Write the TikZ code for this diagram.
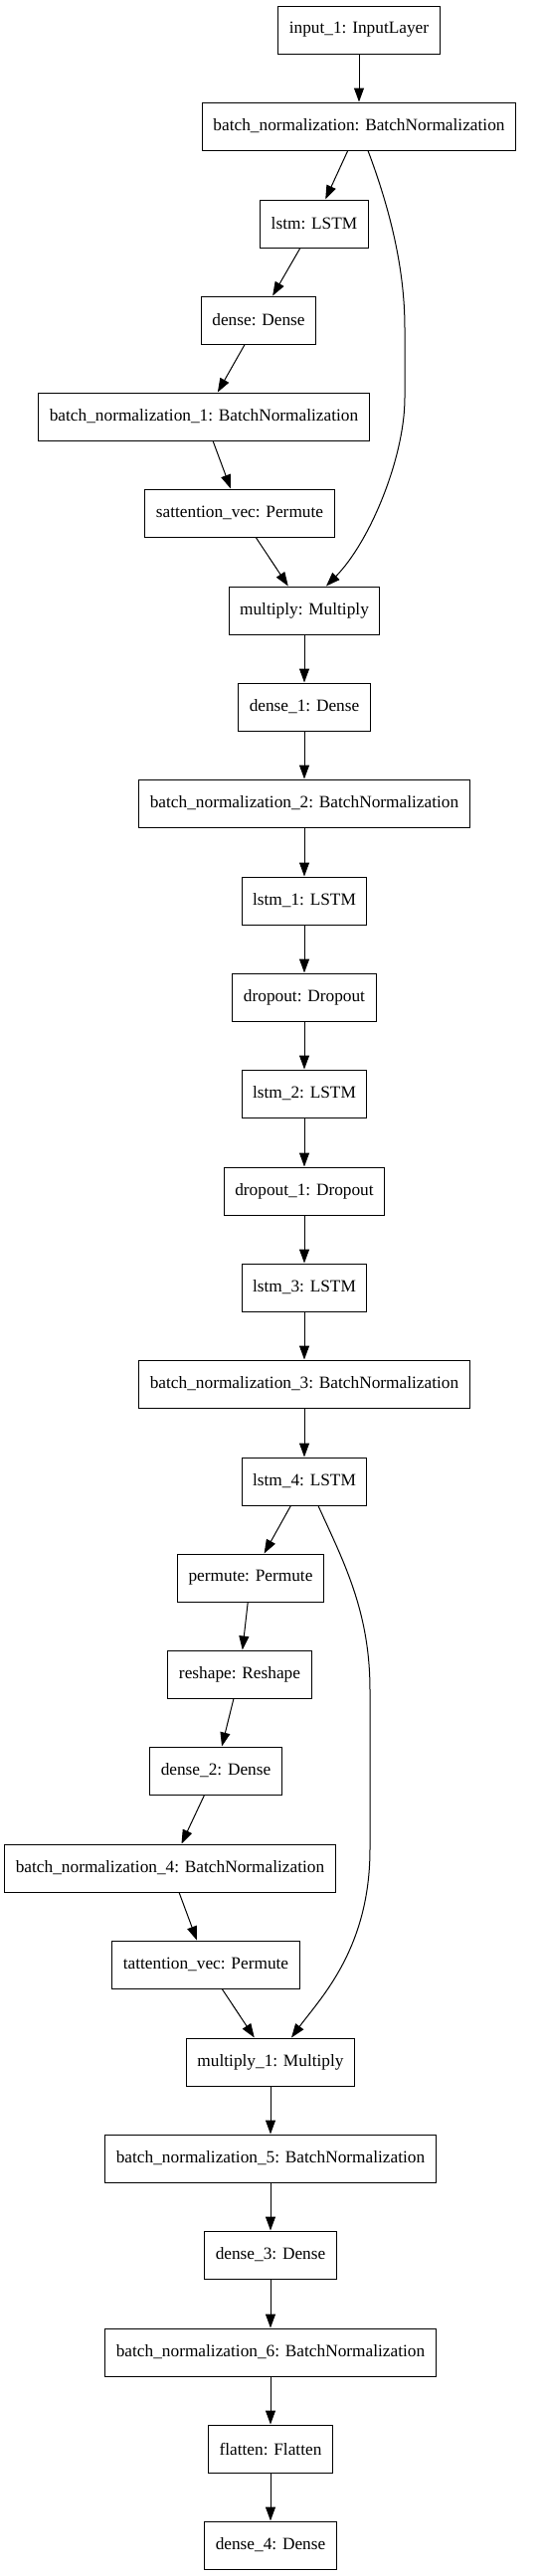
\documentclass[tikz,border=0pt]{standalone}
\usepackage{fontspec}
\setmainfont{Liberation Serif}
\usetikzlibrary{arrows.meta}

\begin{document}
\begin{tikzpicture}[x=1pt,y=-1pt]

% ---------- common style ----------
\tikzstyle{layer}=[draw=black,line width=1pt,minimum height=48pt,inner xsep=11pt,font=\fontsize{17.3}{20}\selectfont]
\tikzstyle{edge}=[draw=black,line width=1pt,-{Triangle[length=14pt,width=10pt]}]

% page frame
\useasboundingbox (0,0) rectangle (546,2591);

% ================== attention block 1 ==================
\node[layer] (inp)   at (361,  30) {input\_1: InputLayer};
\node[layer] (bn)    at (361, 127) {batch\_normalization: BatchNormalization};
\node[layer] (lstm)  at (316, 225) {lstm: LSTM};
\node[layer] (dense) at (260, 322) {dense: Dense};
\node[layer] (bn1)   at (205, 419) {batch\_normalization\_1: BatchNormalization};
\node[layer] (satt)  at (241, 516) {sattention\_vec: Permute};
\node[layer] (mul)   at (306, 614) {multiply: Multiply};

% ================== recurrent stack ==================
\node[layer] (dense1) at (306, 711) {dense\_1: Dense};
\node[layer] (bn2)    at (306, 808) {batch\_normalization\_2: BatchNormalization};
\node[layer] (lstm1)  at (306, 906) {lstm\_1: LSTM};
\node[layer] (drop)   at (306,1003) {dropout: Dropout};
\node[layer] (lstm2)  at (306,1100) {lstm\_2: LSTM};
\node[layer] (drop1)  at (306,1198) {dropout\_1: Dropout};
\node[layer] (lstm3)  at (306,1295) {lstm\_3: LSTM};
\node[layer] (bn3)    at (306,1392) {batch\_normalization\_3: BatchNormalization};
\node[layer] (lstm4)  at (306,1490) {lstm\_4: LSTM};

% ================== attention block 2 ==================
\node[layer] (perm)   at (252,1587) {permute: Permute};
\node[layer] (resh)   at (241,1684) {reshape: Reshape};
\node[layer] (dense2) at (217,1781) {dense\_2: Dense};
\node[layer] (bn4)    at (171,1879) {batch\_normalization\_4: BatchNormalization};
\node[layer] (tatt)   at (207,1976) {tattention\_vec: Permute};
\node[layer] (mul1)   at (272,2074) {multiply\_1: Multiply};

% ================== output head ==================
\node[layer] (bn5)    at (272,2171) {batch\_normalization\_5: BatchNormalization};
\node[layer] (dense3) at (272,2268) {dense\_3: Dense};
\node[layer] (bn6)    at (272,2366) {batch\_normalization\_6: BatchNormalization};
\node[layer] (flat)   at (272,2463) {flatten: Flatten};
\node[layer] (dense4) at (272,2560) {dense\_4: Dense};

% straight connections
\draw[edge] (inp) -- (bn);
\draw[edge] (bn) -- (lstm);
\draw[edge] (lstm) -- (dense);
\draw[edge] (dense) -- (bn1);
\draw[edge] (bn1) -- (satt);
\draw[edge] (satt) -- (mul);
\draw[edge] (mul) -- (dense1);
\draw[edge] (dense1) -- (bn2);
\draw[edge] (bn2) -- (lstm1);
\draw[edge] (lstm1) -- (drop);
\draw[edge] (drop) -- (lstm2);
\draw[edge] (lstm2) -- (drop1);
\draw[edge] (drop1) -- (lstm3);
\draw[edge] (lstm3) -- (bn3);
\draw[edge] (bn3) -- (lstm4);
\draw[edge] (lstm4) -- (perm);
\draw[edge] (perm) -- (resh);
\draw[edge] (resh) -- (dense2);
\draw[edge] (dense2) -- (bn4);
\draw[edge] (bn4) -- (tatt);
\draw[edge] (tatt) -- (mul1);
\draw[edge] (mul1) -- (bn5);
\draw[edge] (bn5) -- (dense3);
\draw[edge] (dense3) -- (bn6);
\draw[edge] (bn6) -- (flat);
\draw[edge] (flat) -- (dense4);

% skip connections (curved)
\draw[edge] ([xshift=9pt]bn.south) .. controls (392,210) and (407,270) .. (407,330)
  -- (407,400) .. controls (407,460) and (372,545) .. ([xshift=22pt]mul.north);
\draw[edge] ([xshift=14pt]lstm4.south) .. controls (345,1570) and (372,1620) .. (372,1700)
  -- (372,1860) .. controls (372,1960) and (322,2010) .. ([xshift=21pt]mul1.north);

\end{tikzpicture}
\end{document}
